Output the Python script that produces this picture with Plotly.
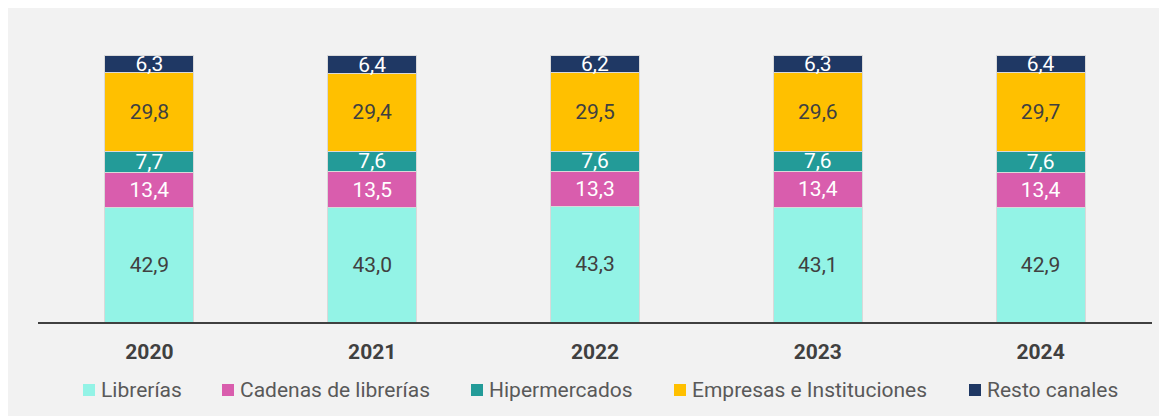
import plotly.graph_objects as go

years = ["2020", "2021", "2022", "2023", "2024"]
librerias = [42.9, 43.0, 43.3, 43.1, 42.9]
cadenas = [13.4, 13.5, 13.3, 13.4, 13.4]
hiper = [7.7, 7.6, 7.6, 7.6, 7.6]
empresas = [29.8, 29.4, 29.5, 29.6, 29.7]
resto = [6.3, 6.4, 6.2, 6.3, 6.4]

names = ["Librerías", "Cadenas de librerías", "Hipermercados",
         "Empresas e Instituciones", "Resto canales"]
values = [librerias, cadenas, hiper, empresas, resto]
colors = ["#93F3E6", "#D95DAD", "#239B98", "#FFC000", "#1F3864"]
text_colors = ["#404040", "#FFFFFF", "#FFFFFF", "#404040", "#FFFFFF"]

# layout (pixels, relative to the figure)
W, H = 1159, 408
L, R, T, B = 30, 15, 32, 94
pw, ph = W - L - R, H - T - B
legend_left_px = [75, 214, 463, 666, 961]   # left edge of each legend square
legend_center_px = 382                       # vertical centre of the legend
sq = 12

def px_x(p):
    return (p - L) / pw

def px_y(p):
    return (T + ph - p) / ph

fig = go.Figure()
for name, vals, col, tcol in zip(names, values, colors, text_colors):
    fig.add_trace(go.Bar(
        x=years, y=vals, name=name,
        marker=dict(color=col, line=dict(color="#D9D9D9", width=1)),
        texttemplate="%{y:.1f}", textposition="inside",
        insidetextanchor="middle", constraintext="none",
        textfont=dict(family="Roboto", size=21, color=tcol),
        cliponaxis=False, showlegend=False,
    ))

# custom legend
for name, col, lx in zip(names, colors, legend_left_px):
    fig.add_shape(type="rect", xref="paper", yref="paper",
                  x0=px_x(lx), x1=px_x(lx + sq),
                  y0=px_y(legend_center_px + sq / 2), y1=px_y(legend_center_px - sq / 2),
                  fillcolor=col, line=dict(width=0))
    fig.add_annotation(text=name, xref="paper", yref="paper",
                       x=px_x(lx + sq + 4), y=px_y(legend_center_px),
                       xanchor="left", yanchor="middle", showarrow=False,
                       font=dict(family="Roboto", size=21, color="#595959"))

fig.update_layout(
    width=W, height=H,
    margin=dict(l=L, r=R, t=T, b=B),
    barmode="stack", bargap=0.6,
    separators=",.",
    paper_bgcolor="#F2F2F2", plot_bgcolor="#F2F2F2",
    font=dict(family="Roboto", size=20, color="#404040"),
    xaxis=dict(showline=True, linecolor="#404040", linewidth=2,
               ticks="", showgrid=False, ticklabelstandoff=10,
               tickfont=dict(family="Roboto", size=21, color="#404040", weight="bold")),
    yaxis=dict(visible=False, range=[0, 105.9]),
    showlegend=False,
)

fig.write_html("out.html")
